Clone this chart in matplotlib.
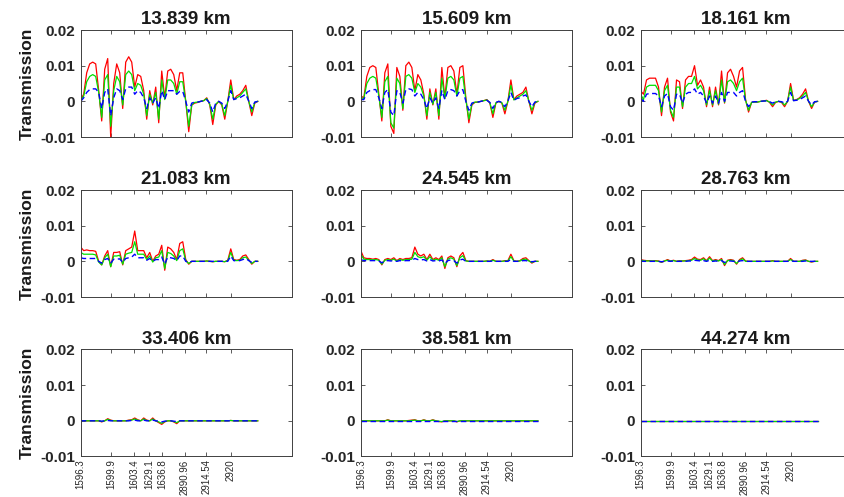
import numpy as np
import matplotlib
matplotlib.use('Agg')
import matplotlib.pyplot as plt

# altitudes (panel titles)
titles = ['13.839 km', '15.609 km', '18.161 km',
          '21.083 km', '24.545 km', '28.763 km',
          '33.406 km', '38.581 km', '44.274 km']

# x tick labels (wavenumbers) and their sample positions
tick_labels = ['1596.3', '1599.9', '1603.4', '1629.1', '1636.8', '2890.96', '2914.54', '2920']
tick_pos = [0, 10.2, 17.8, 22.8, 27.2, 34.7, 41.9, 50]

# transmission differences, in units of 1e-3
red_1 = [0.5, 2, 8, 10.5, 11, 10.5, 3, -5.5, 9, 12, -10, 5, 10.5, 8, -2, 11, 12.5, 11, 4, 7.5,
         7, 3, -5, 3, -1, 4, -6, 8.5, 1, 8.5, 9, 7.5, 3, 8, 8, 0, -8.5, -1, -0.5, -0.3,
         0, 0.2, 1, -1, -6.5, -1, 0, -1, -5, 0, 6, 0.5, 1.5, 2, 3, 4.5, 0, -4, -0.5, 0]
green_1 = [0.3, 1.5, 5.5, 7, 7.5, 7, 2.5, -4.5, 6, 7.5, -7, 3, 7, 5.5, -1, 7.5, 8.5, 7.5, 3, 5,
           4.5, 2, -4, 2, -0.5, 2.5, -5, 6, 0.5, 6, 6, 5, 2, 5.5, 5.5, 0, -7, -1, -0.3, -0.2,
           0, 0.2, 0.8, -0.8, -5, -0.8, 0, -0.8, -4, 0, 4.5, 0.5, 1, 1.5, 2.5, 3.5, 0, -3, -0.3, 0]
blue_1 = [0, 1, 2.5, 3.3, 3.5, 3.5, 2.5, -2, 2.5, 3.5, -4, 1, 3.5, 3, 0.5, 3.5, 4, 4, 2, 3,
          2.5, 1, -2, 1, -0.5, 1, -2, 3, 0.5, 3, 3, 3, 2, 2.8, 2.8, 0, -3, -0.5, -0.2, -0.2,
          0, 0.2, 0.5, -0.5, -3, -0.5, 0, -0.5, -2, 0, 3, 0.5, 0.8, 1, 1.5, 2, 0, -2, -0.2, 0]

red_2 = [1.5, 1, 7, 9.5, 10, 9.5, 2, -5.5, 8, 10.5, -7, -9, 9.5, 7, -2.5, 10, 11, 9.5, 3, 7.5,
         6, 2, -5, 3.5, -1, 3.5, -5, 9.5, 1, 9.5, 10, 8.5, 2, 9.5, 10, 1, -6, -1, -0.3, -0.2,
         0, 0.2, 0.5, -0.5, -4.5, -0.5, 0, -0.5, -3.5, 0, 6, 0.5, 1.5, 2, 2.5, 4, 0, -3.5, -0.5, 0]
green_2 = [1, 0.8, 5, 6.5, 7, 6.5, 1.5, -4.5, 5.5, 7, -6, -7.5, 6.5, 5, -2, 7, 7.5, 6.5, 2.5, 5,
           4, 1.5, -4, 2.5, -0.8, 2.5, -4, 6.5, 0.8, 6.5, 7, 6, 1.5, 6.5, 7, 0.5, -5, -0.8, -0.2, -0.2,
           0, 0.2, 0.4, -0.4, -3.5, -0.4, 0, -0.4, -2.5, 0, 4.5, 0.4, 1, 1.5, 2, 3, 0, -2.5, -0.3, 0]
blue_2 = [0.5, 0.5, 2.5, 3, 3.3, 3.3, 1, -2, 2.5, 3.3, -3, -4, 3, 2.5, -0.5, 3.3, 3.5, 3.3, 1.5, 2.5,
          2, 0.5, -2, 1, -0.5, 1, -2, 3, 0.5, 3, 3.3, 3, 1.5, 3, 3.3, 0, -2.5, -0.5, -0.2, -0.2,
          0, 0.2, 0.3, -0.3, -2, -0.3, 0, -0.3, -1.5, 0, 2.5, 0.3, 0.8, 1, 1.5, 1.8, 0, -1.5, -0.2, 0]

red_3 = [3, 2, 6, 6.5, 6.5, 6.5, 4, -4, 4, 6.5, -3, -5.5, 6, 5.5, -2, 6, 7, 7, 10, 4.5,
         6, 4, -1.5, 4, -1.5, 4, -1, 8.5, -0.5, 8, 9, 7, 4, 8.5, 9.5, 0.5, -3, -0.3, -0.2, -0.2,
         0, 0.1, 0.3, -0.3, -1.5, -0.3, 0, -0.3, -1.5, 0, 5, 0.3, 0.5, 1, 2, 3.5, 0, -2, -0.2, 0]
green_3 = [2, 0.5, 4, 4.5, 4.5, 4.5, 3, -3, 3, 4.5, -2.5, -4.5, 4, 4, -1.5, 4, 5, 5, 7, 3.5,
           4.5, 3, -1, 3, -1, 3, -0.8, 6, -0.3, 5.5, 6, 5, 3, 5.5, 6.5, 0.3, -2.5, -0.3, -0.2, -0.2,
           0, 0.1, 0.2, -0.2, -1, -0.2, 0, -0.2, -1, 0, 4, 0.2, 0.4, 0.8, 1.5, 2.5, 0, -1.5, -0.2, 0]
blue_3 = [1, 0, 2, 2.2, 2.2, 2.2, 1.5, -1.5, 1.5, 2.2, -1.5, -2.5, 2, 2, -0.5, 2, 2.5, 2.5, 3.5, 2,
          2.5, 1.5, -0.5, 1.5, -0.5, 1.5, -0.5, 2.5, 0, 2.5, 2.5, 2.5, 1.5, 2.5, 3, 0, -1.5, -0.2, -0.1, -0.1,
          0, 0.1, 0.1, -0.1, -0.5, -0.1, 0, -0.1, -0.5, 0, 2.5, 0.2, 0.3, 0.5, 1, 1.5, 0, -1, -0.1, 0]

red_4 = [4, 3, 3.2, 3, 3, 2.8, 0, -1, 1.5, 3, -1.5, 2.5, 2.5, 2.7, -1, 3, 3.5, 4, 8.5, 3,
         3, 3, 1, 2.5, 0, 1.5, 2, 4.5, -2.5, 4, 3.5, 2.5, 0.5, 5, 5.5, 0.5, -0.8, 0, 0, 0,
         0, 0, 0.1, 0, -0.1, 0, 0, 0, -0.1, 0.3, 3.5, 0.5, 0.3, 0.5, 1.5, 1.8, 0.5, -0.8, 0, 0]
green_4 = [2.5, 2, 2, 2, 2, 1.8, -0.2, -1, 1, 2, -1.5, 1.5, 1.5, 1.7, -0.8, 2, 2.3, 2.5, 5.5, 2,
           2, 2, 0.5, 1.5, -0.2, 1, 1.2, 3, -2, 2.5, 2.2, 1.5, 0.2, 3, 3.5, 0.2, -0.6, 0, 0, 0,
           0, 0, 0.1, 0, -0.1, 0, 0, 0, -0.1, 0.2, 2.5, 0.3, 0.2, 0.3, 1, 1.2, 0.3, -0.6, 0, 0]
blue_4 = [1, 0.8, 0.8, 0.8, 0.8, 0.8, 0, -0.5, 0.5, 0.8, -0.5, 0.6, 0.6, 0.7, -0.3, 0.8, 1, 1.2, 2, 1,
          1, 1, 0.3, 0.8, 0, 0.5, 0.5, 1.2, -0.8, 1.2, 1, 0.8, 0.2, 1.5, 1.5, 0, -0.3, 0, 0, 0,
          0, 0, 0, 0, 0, 0, 0, 0, 0, 0, 1.5, 0.2, 0.1, 0.2, 0.5, 0.8, 0.2, -0.3, 0, 0]

red_5 = [3, 1, 0.8, 0.8, 0.6, 0.8, 0.5, -1, 0.5, 0.8, 0.5, 1, 0.2, 0.8, 0.5, 0.8, 0.8, 1, 4, 2,
         1.5, 2, 0.5, 2, 0.5, 1, 0.5, 1.5, -2, 1, 1.5, 1, -1.5, 1.5, 2.5, 0.2, 0, 0, 0, 0,
         0, 0, 0.1, 0, 0.5, 0, 0, 0, 0.2, 0.2, 2, 0.2, 0, 0.2, 0.8, 1, 0.2, -0.5, 0, 0]
green_5 = [2, 0.6, 0.5, 0.5, 0.4, 0.5, 0.3, -0.8, 0.3, 0.5, 0.3, 0.6, 0.1, 0.5, 0.3, 0.5, 0.5, 0.6, 2.5, 1.3,
           1, 1.3, 0.3, 1.3, 0.3, 0.6, 0.3, 1, -1.5, 0.6, 1, 0.6, -1.2, 1, 1.6, 0.1, 0, 0, 0, 0,
           0, 0, 0.1, 0, 0.3, 0, 0, 0, 0.1, 0.1, 1.3, 0.1, 0, 0.1, 0.5, 0.6, 0.1, -0.3, 0, 0]
blue_5 = [0.5, 0.2, 0.2, 0.2, 0.2, 0.2, 0.1, -0.4, 0.1, 0.2, 0.1, 0.2, 0, 0.2, 0.1, 0.2, 0.2, 0.3, 0.8, 0.5,
          0.4, 0.5, 0.1, 0.5, 0.1, 0.2, 0.1, 0.4, -0.6, 0.2, 0.4, 0.2, -0.5, 0.4, 0.6, 0, 0, 0, 0, 0,
          0, 0, 0, 0, 0.1, 0, 0, 0, 0, 0, 0.5, 0, 0, 0, 0.2, 0.2, 0, -0.1, 0, 0]

red_6 = [0.5, 0.3, 0.2, 0.2, 0.1, 0.2, 0.1, -0.3, 0.1, 0.5, 0.1, 0.3, 0, 0.2, 0.1, 0.2, 0.3, 0.5, 1.2, 0.6,
         0.5, 1, 0.2, 1.3, 0.2, 0.5, 0.2, 0.8, -1.2, 0.3, 0.5, 0.3, -0.8, 0.5, 1, 0.1, 0, 0, 0, 0,
         0, 0, 0, 0, 0.2, 0, 0, 0, 0, 0, 0.8, 0, 0, 0, 0.3, 0.4, 0, -0.2, 0, 0]
green_6 = [0.3, 0.2, 0.1, 0.1, 0.1, 0.1, 0, -0.2, 0.1, 0.3, 0.1, 0.2, 0, 0.1, 0.1, 0.1, 0.2, 0.3, 0.8, 0.4,
           0.3, 0.7, 0.1, 0.9, 0.1, 0.3, 0.1, 0.5, -0.9, 0.2, 0.3, 0.2, -0.6, 0.3, 0.7, 0, 0, 0, 0, 0,
           0, 0, 0, 0, 0.1, 0, 0, 0, 0, 0, 0.5, 0, 0, 0, 0.2, 0.3, 0, -0.1, 0, 0]
blue_6 = [0.1, 0, 0, 0, 0, 0, 0, -0.1, 0, 0.1, 0, 0.1, 0, 0, 0, 0, 0.1, 0.1, 0.3, 0.2,
          0.1, 0.2, 0, 0.3, 0, 0.1, 0, 0.2, -0.3, 0, 0.1, 0, -0.2, 0.1, 0.2, 0, 0, 0, 0, 0,
          0, 0, 0, 0, 0, 0, 0, 0, 0, 0, 0.2, 0, 0, 0, 0, 0.1, 0, 0, 0, 0]

red_7 = [0.1, 0, 0, 0, 0, 0, 0, -0.3, 0, 0.6, 0.2, 0, 0, 0, 0, 0, 0.2, 0.3, 0.8, 0.3,
         0, 0.8, 0.2, 0, 0.8, 0, -0.5, -1, -0.3, 0, 0, -0.3, -0.8, 0, 0, 0, 0, 0, 0, 0,
         0, 0, 0, 0, 0, 0, 0, 0, 0, 0, 0.1, 0, 0, 0, 0, 0, 0, 0, 0, 0]
green_7 = [0.1, 0, 0, 0, 0, 0, 0, -0.2, 0, 0.4, 0.1, 0, 0, 0, 0, 0, 0.1, 0.2, 0.5, 0.2,
           0, 0.5, 0.1, 0, 0.5, 0, -0.3, -0.7, -0.2, 0, 0, -0.2, -0.5, 0, 0, 0, 0, 0, 0, 0,
           0, 0, 0, 0, 0, 0, 0, 0, 0, 0, 0.1, 0, 0, 0, 0, 0, 0, 0, 0, 0]
blue_7 = [0, 0, 0, 0, 0, 0, 0, -0.1, 0, 0.1, 0, 0, 0, 0, 0, 0, 0, 0.1, 0.2, 0,
          0, 0.2, 0, 0, 0.2, 0, -0.1, -0.3, -0.1, 0, 0, -0.1, -0.2, 0, 0, 0, 0, 0, 0, 0,
          0, 0, 0, 0, 0, 0, 0, 0, 0, 0, 0, 0, 0, 0, 0, 0, 0, 0, 0, 0]

red_8 = [0, 0, 0, 0, 0, 0, 0, 0, 0, 0.3, 0, 0, 0, 0, 0, 0, 0.1, 0.2, 0.3, 0,
         0, 0.3, 0, 0, 0.3, 0, -0.2, -0.3, 0, 0, 0, 0, -0.3, 0, 0, 0, 0, 0, 0, 0,
         0, 0, 0, 0, 0, 0, 0, 0, 0, 0, 0, 0, 0, 0, 0, 0, 0, 0, 0, 0]
green_8 = [0, 0, 0, 0, 0, 0, 0, 0, 0, 0.2, 0, 0, 0, 0, 0, 0, 0, 0.1, 0.2, 0,
           0, 0.2, 0, 0, 0.2, 0, -0.1, -0.2, 0, 0, 0, 0, -0.2, 0, 0, 0, 0, 0, 0, 0,
           0, 0, 0, 0, 0, 0, 0, 0, 0, 0, 0, 0, 0, 0, 0, 0, 0, 0, 0, 0]
blue_8 = [0] * 60

red_9 = [0] * 60
green_9 = [0] * 60
blue_9 = [0] * 60

reds = [red_1, red_2, red_3, red_4, red_5, red_6, red_7, red_8, red_9]
greens = [green_1, green_2, green_3, green_4, green_5, green_6, green_7, green_8, green_9]
blues = [blue_1, blue_2, blue_3, blue_4, blue_5, blue_6, blue_7, blue_8, blue_9]

fig = plt.figure(figsize=(8.45, 4.97), dpi=100)
plt.rcParams['font.family'] = ['Liberation Sans', 'DejaVu Sans']

# axes boxes are wider than the visible data; the right column runs off the image
lefts = [0.0955, 0.427, 0.758]
bottoms = [0.7243, 0.4024, 0.0815]
w, h = 0.2497, 0.2153
frame = '#404040'

for k in range(9):
    r, c = divmod(k, 3)
    ax = fig.add_axes([lefts[c], bottoms[r], w, h])
    x = np.arange(len(reds[k]))
    ax.plot(x, np.array(reds[k]) * 1e-3, color='red', lw=0.9)
    ax.plot(x, np.array(greens[k]) * 1e-3, color='#00e000', lw=0.9)
    ax.plot(x, np.array(blues[k]) * 1e-3, color='blue', lw=1.0, ls=(0, (4, 2.5)))
    ax.set_xlim(0, 70.3)
    ax.set_ylim(-0.01, 0.02)
    ax.set_yticks([-0.01, 0, 0.01, 0.02])
    ax.set_yticklabels(['-0.01', '0', '0.01', '0.02'], fontsize=11, fontweight='bold', color='#262626')
    ax.set_xticks(tick_pos)
    if r == 2:
        ax.set_xticklabels(tick_labels, rotation=90, fontsize=7, color='#262626')
    else:
        ax.set_xticklabels([])
    ax.tick_params(axis='y', pad=4)
    ax.tick_params(axis='x', pad=2)
    ax.tick_params(direction='in', top=True, right=True, length=3, width=0.6, colors=frame,
                   labelcolor='#262626')
    for s in ax.spines.values():
        s.set_color(frame)
        s.set_linewidth(0.7)
    ax.set_title(titles[k], fontsize=13.5, fontweight='bold', color='#1a1a1a', pad=4)
    if c == 0:
        ax.set_ylabel('Transmission', fontsize=12.5, fontweight='bold', color='#1a1a1a', labelpad=4)

fig.savefig('out.png', dpi=100)
